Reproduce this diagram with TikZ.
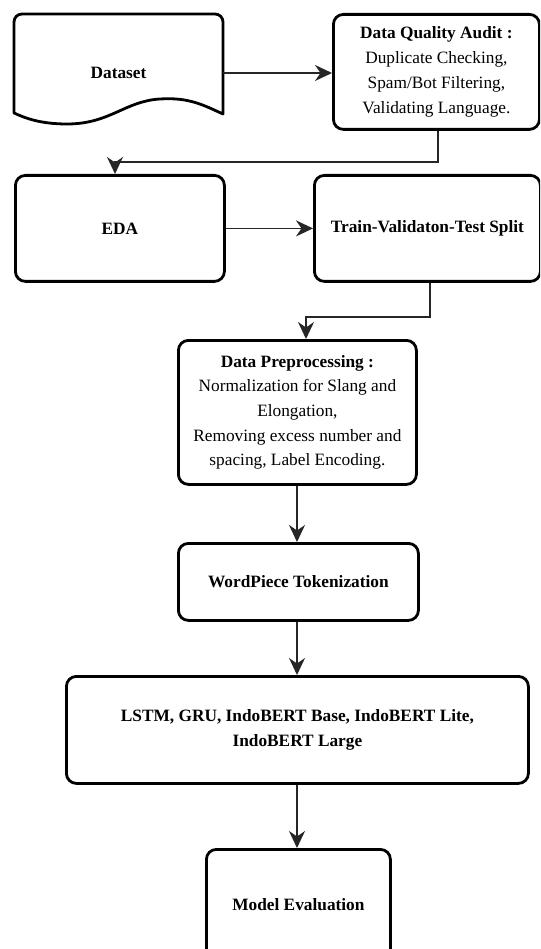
\documentclass[tikz,border=0pt]{standalone}
\usepackage{fontspec}
\setmainfont{Liberation Serif}
\usetikzlibrary{arrows.meta}
\begin{document}
\begin{tikzpicture}[x=1pt,y=-1pt,
  txt/.style={font=\fontsize{17.3}{24.7}\selectfont, align=center, text=black, inner sep=0pt},
  bx/.style={txt, draw=black, line width=2.8pt, rounded corners=10pt, anchor=north west},
  conn/.style={draw=black!85, line width=1.4pt, -{Stealth[length=17pt,width=16pt,inset=5.5pt]}}
]
\clip (0,0) rectangle (540,949);
\fill[white] (0,0) rectangle (540,949);

% Dataset (document shape)
\node[txt, minimum width=209, minimum height=118] (ds) at (118.5,73) {\textbf{Dataset}};
\draw[line width=2.8pt, line join=round] (14,113) -- (14,22) [rounded corners=8pt] -- (14,14) -- (223,14) [sharp corners] -- (223,114)
  .. controls (205,106) and (190,97) .. (160,99)
  .. controls (125,101) and (110,124) .. (67,124)
  .. controls (40,124) and (25,118) .. (14,113) -- cycle;

% Audit
\node[bx, minimum width=206, minimum height=115] (audit) at (332,13) {\textbf{Data Quality Audit :}\\ Duplicate Checking,\\ Spam/Bot Filtering,\\ Validating Language.};

% EDA
\node[bx, minimum width=209, minimum height=106] (eda) at (14,174) {\textbf{EDA}};

% Train
\node[bx, minimum width=226, minimum height=106] (train) at (313,174) {\textbf{Train-Validaton-Test Split}};

% Preprocessing
\node[bx, minimum width=238, minimum height=144] (prep) at (177,339) {\textbf{Data Preprocessing :}\\ Normalization for Slang and\\ Elongation,\\ Removing excess number and\\ spacing, Label Encoding.};

% WordPiece
\node[bx, minimum width=240, minimum height=77] (word) at (177,542) {\textbf{WordPiece Tokenization}};

% Models
\node[bx, minimum width=462, minimum height=107] (model) at (65,675) {\textbf{LSTM, GRU, IndoBERT Base, IndoBERT Lite,}\\ \textbf{IndoBERT Large}};

% Evaluation
\node[bx, minimum width=184, minimum height=110] (eval) at (205,848) {\textbf{Model Evaluation}};

% connectors
\draw[conn] (ds.east) -- (audit.west |- ds.east);
\draw[conn] (audit.south -| 438,0) |- (115,162) -- (eda.north -| 115,0);
\draw[conn] (eda.east) -- (train.west);
\draw[conn] (train.south -| 430,0) |- (306,317) -- (prep.north -| 306,0);
\draw[conn] (prep.south -| 297,0) -- (word.north -| 297,0);
\draw[conn] (word.south -| 297,0) -- (model.north -| 297,0);
\draw[conn] (model.south -| 297,0) -- (eval.north -| 297,0);
\end{tikzpicture}
\end{document}
